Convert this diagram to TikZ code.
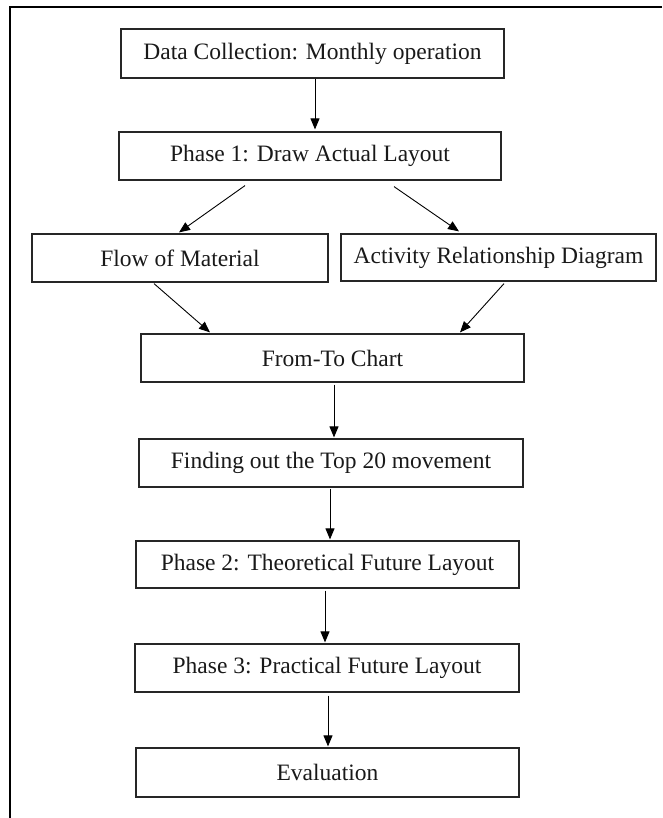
\documentclass[tikz,border=0pt]{standalone}
\usepackage{fontspec}
\setmainfont{Liberation Serif}
\usetikzlibrary{arrows.meta}
\begin{document}
\begin{tikzpicture}[x=1pt,y=-1pt,
  box/.style={draw=black!85, line width=1.2pt, rectangle, inner sep=0pt,
    minimum height=48pt, font=\fontsize{23.5}{27}\selectfont, text=black!90},
  arr/.style={line width=0.9pt, -{Triangle[length=11pt,width=9pt]}},
  frameline/.style={line width=2pt}]
\useasboundingbox (0,0) rectangle (662,818);
\coordinate (fr1) at (662,7);
\coordinate (fr2) at (10,7);
\coordinate (fr3) at (10,818);
\draw[frameline] (fr1) -- (fr2) -- (fr3);

\node[box, minimum width=383pt, minimum height=49pt] (A) at (312.5,53.5) {Data Collection: Monthly operation};
\node[box, minimum width=382pt] (B) at (310,156) {Phase 1: Draw Actual Layout};
\node[box, minimum width=296pt] (F) at (180,258) {Flow of Material};
\node[box, minimum width=315pt, minimum height=47pt] (R) at (498.5,257.5) {Activity Relationship Diagram};
\node[box, minimum width=383pt] (T) at (332.5,358) {From-To Chart};
\node[box, minimum width=384pt] (N) at (331,463) {Finding out the Top 20 movement};
\node[box, minimum width=383pt, minimum height=47pt] (P2) at (327.5,564.5) {Phase 2: Theoretical Future Layout};
\node[box, minimum width=384pt] (P3) at (327,668) {Phase 3: Practical Future Layout};
\node[box, minimum width=383pt, minimum height=49pt] (E) at (327.5,772.5) {Evaluation};

\draw[arr] ([shift={(2.5,0)}]A.south) -- ([shift={(5,-2)}]B.north);
\draw[arr] ([shift={(-65,5)}]B.south) -- ([shift={(-1,-1)}]F.north);
\draw[arr] ([shift={(84,6)}]B.south) -- ([shift={(-39.5,-2)}]R.north);
\draw[arr] ([shift={(-26,1)}]F.south) -- ([shift={(-122.5,-1)}]T.north);
\draw[arr] ([shift={(5.5,2)}]R.south) -- ([shift={(127.5,-1)}]T.north);
\draw[arr] ([shift={(1.5,2)}]T.south) -- ([shift={(3,-1)}]N.north);
\draw[arr] ([shift={(-1,1)}]N.south) -- ([shift={(2.5,-1)}]P2.north);
\draw[arr] ([shift={(-2.5,2)}]P2.south) -- ([shift={(-2,-1)}]P3.north);
\draw[arr] ([shift={(1,3)}]P3.south) -- ([shift={(0.5,-1)}]E.north);
\end{tikzpicture}
\end{document}
